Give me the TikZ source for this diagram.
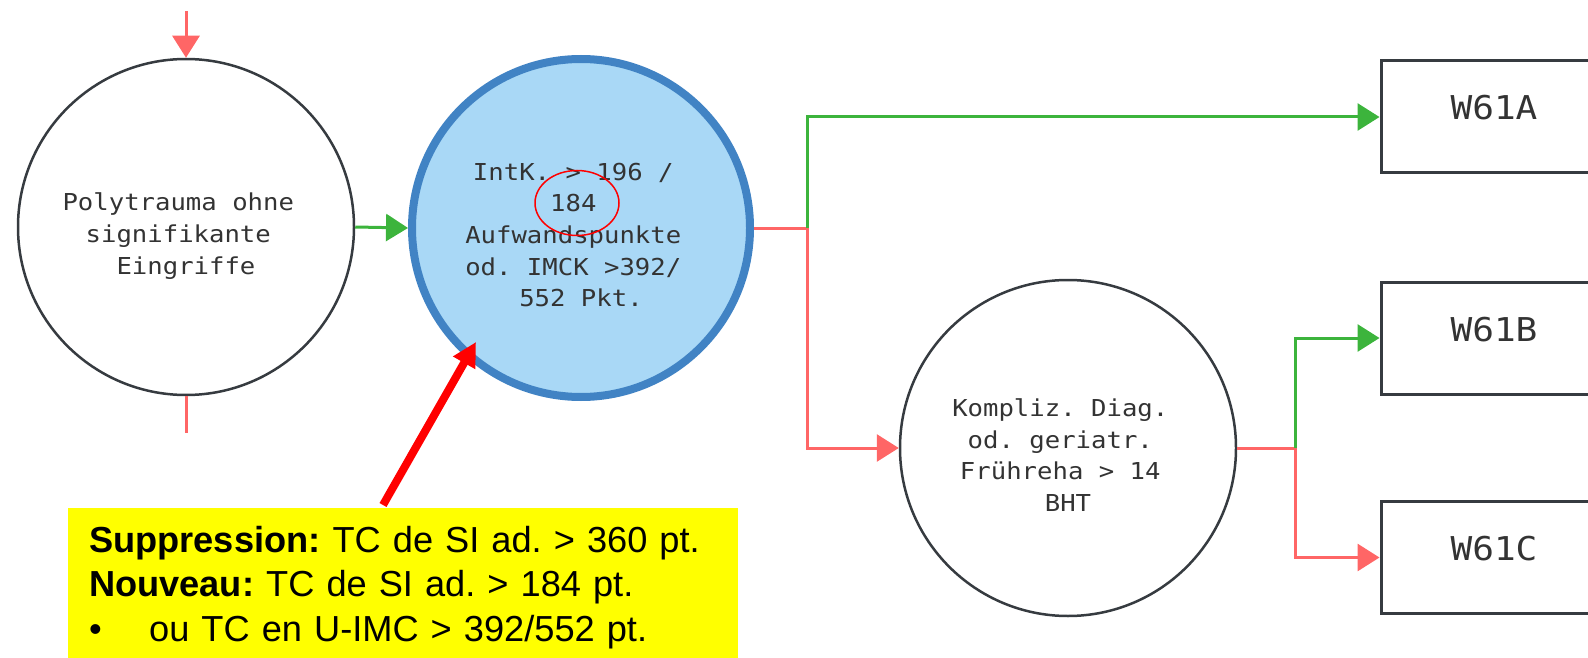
\documentclass[tikz,border=0pt]{standalone}
\usepackage{fontspec}
\setmainfont{Liberation Sans}
\newfontfamily\monof[FakeStretch=1.1]{DejaVu Sans Mono}
\usetikzlibrary{arrows.meta,calc,shapes.geometric}
\definecolor{lred}{HTML}{FF6666}
\definecolor{lgreen}{HTML}{3CB43C}
\definecolor{ink}{HTML}{333333}
\definecolor{edgec}{HTML}{363B40}
\definecolor{bfill}{HTML}{A9D8F6}
\definecolor{bborder}{HTML}{4183C4}
\definecolor{yel}{HTML}{FFFF00}
\newcommand\tsp{\hphantom{0}}
\frenchspacing
\begin{document}
\begin{tikzpicture}[x=1pt,y=-1pt,
  circ/.style={circle, draw=edgec, line width=2.5pt, minimum size=336pt, inner sep=0pt},
  ctext/.style={font=\monof\fontsize{23.3}{31.6}\selectfont, text=ink, align=center},
  outbox/.style={rectangle, draw=edgec, line width=3pt, minimum width=226pt, minimum height=112pt,
    font=\monof\fontsize{32.8}{40}\selectfont, text=ink, text height=24pt, text depth=18pt, inner sep=0pt},
  redl/.style={draw=lred, line width=3pt},
  greenl/.style={draw=lgreen, line width=3pt},
  arr/.style={-{Triangle[length=22pt,width=27pt]}},
  note/.style={rectangle, fill=yel, anchor=north west, inner xsep=21pt, inner ysep=17.8pt,
    text width=628pt, align=left, font=\frenchspacing\fontsize{36.2}{44.5}\selectfont, text=black}
]
\useasboundingbox (0,0) rectangle (1588,658);

% nodes
\node[circ, label={[ctext, yshift=-9pt, name=c1t]center:{Polytrauma ohne\tsp\\signifikante\tsp\\Eingriffe}}] (c1) at (186,227) {};
\node[circ, fill=bfill, draw=bborder, line width=8pt, minimum size=338pt,
  label={[ctext, yshift=-7pt, name=c2t]center:{IntK. > 196 /\tsp\\184\tsp\\Aufwandspunkte\tsp\\od. IMCK >392/\tsp\\552 Pkt.}}] (c2) at (581,228) {};
\node[circ, label={[ctext, yshift=-7pt, name=c3t]center:{Kompliz. Diag.\tsp\\od. geriatr.\tsp\\Frühreha > 14\tsp\\BHT}}] (c3) at (1068,448) {};

\node[outbox] (A) at (1494,117) {W61A};
\node[outbox] (B) at (1494,338) {W61B};
\node[outbox] (C) at (1494,557.5) {W61C};

\node[draw=red, line width=1.5pt, ellipse, minimum width=84pt, minimum height=65pt, inner sep=0pt] (e184) at (577,203) {};

\node[note] (Y) at (68,508) {\mbox{\textbf{Suppression:} TC de SI ad. > 360 pt.}\\
\mbox{\textbf{Nouveau:} TC de SI ad. > 184 pt.}\\
\mbox{\makebox[60pt][l]{•}ou TC en U-IMC > 392/552 pt.}};

% coordinates
\coordinate (top) at (186,11);
\coordinate (bot) at (186,433);
\coordinate (j1) at (807,228);
\coordinate (j2) at (1295,448);
\coordinate (tail) at (383,505);
\coordinate (tip) at (476,342);

% connectors
\draw[redl, arr] (top) -- (c1.north);
\draw[redl] (c1.south) -- (bot);
\draw[greenl, arr] (c1.east) -- (c2.west);
\draw[redl] (c2.east) -- (j1);
\draw[redl, arr] (j1) |- (c3.west);
\draw[greenl, arr] (j1) |- (A.west);
\draw[redl] (c3.east) -- (j2);
\draw[redl, arr] (j2) |- (C.west);
\draw[greenl, arr] (j2) |- (B.west);

\draw[red, line width=8pt, -{Triangle[length=24pt,width=24pt]}] (tail) -- (tip);
\end{tikzpicture}
\end{document}
